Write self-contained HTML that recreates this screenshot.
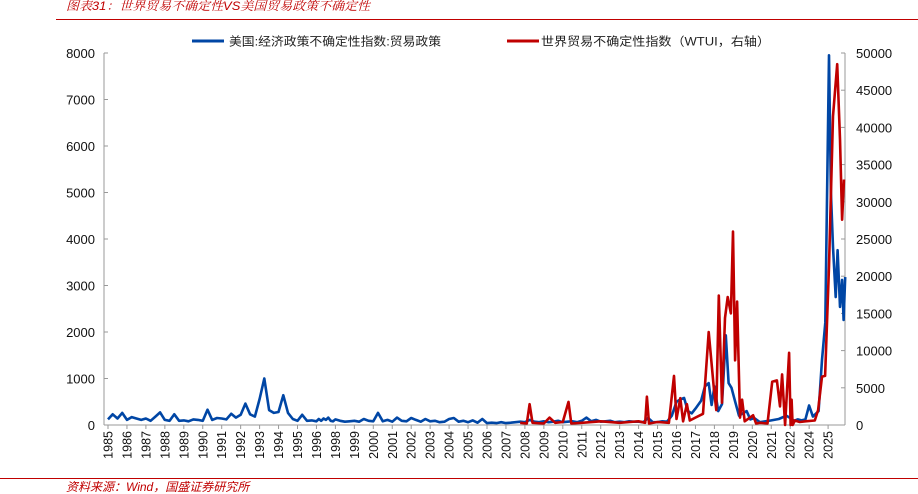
<!DOCTYPE html>
<html><head><meta charset="utf-8"><style>
html,body{margin:0;padding:0;background:#fff;}
svg{display:block;font-family:"Liberation Sans","Noto Sans CJK SC",sans-serif;}
</style></head><body>
<svg id="chart" width="918" height="494" viewBox="0 0 918 494" xmlns="http://www.w3.org/2000/svg">
<text x="66" y="10" font-size="12" fill="#c00000" font-style="italic" textLength="304" lengthAdjust="spacingAndGlyphs" font-family="'Liberation Sans','Noto Serif CJK SC',serif">图表31：世界贸易不确定性VS美国贸易政策不确定性</text>
<line x1="56" y1="19.5" x2="918" y2="19.5" stroke="#c00000" stroke-width="1"/>
<g>
<line x1="192" y1="41" x2="224" y2="41" stroke="#0046a5" stroke-width="3"/>
<text x="229" y="45.5" font-size="12" fill="#222" textLength="212" lengthAdjust="spacingAndGlyphs">美国:经济政策不确定性指数:贸易政策</text>
<line x1="507" y1="41" x2="539" y2="41" stroke="#c00000" stroke-width="3"/>
<text x="541" y="45.5" font-size="12" fill="#222" textLength="229" lengthAdjust="spacingAndGlyphs">世界贸易不确定性指数（WTUI，右轴）</text>
</g>
<g id="axes"></g>
<g id="series"></g>
<line x1="0" y1="478.5" x2="918" y2="478.5" stroke="#c00000" stroke-width="1"/>
<text x="66" y="491" font-size="12" fill="#c00000" font-style="italic">资料来源：Wind，国盛证券研究所</text>
</svg>
<script>
const labelYears=[1985,1986,1987,1988,1989,1990,1991,1992,1993,1994,1995,1996,1998,1999,2000,2001,2002,2003,2004,2005,2006,2007,2008,2009,2010,2011,2012,2013,2014,2015,2016,2017,2018,2019,2020,2021,2022,2024,2025];
const leftTicks=[0,1000,2000,3000,4000,5000,6000,7000,8000];
const rightTicks=[0,5000,10000,15000,20000,25000,30000,35000,40000,45000,50000];
const blueQuarterStart=1985;
const blueQuarterValues=[120,230,140,260,110,170,140,110,140,90,180,270,110,90,230,90,100,80,120,110,90,330,110,150,140,120,240,160,220,460,230,180,560,1000,320,260,280,640,260,130,90,220,90,100,80,130,90,140,110,160,90,80,120,90,70,80,90,70,130,90,80,260,80,110,70,160,90,80,150,110,70,130,80,90,60,70,130,150,70,90,60,100,50,130,40,50,40,60,40,50,60,70,60,110,70,60,80,60,70,90,60,70,80,60,90,160,80,110,70,80,90,60,70,60,80,70,70,60,150,60,60,80,70,200];
const blueLateDates=[2016.0,2016.2,2016.4,2016.6,2016.8,2017.0,2017.3,2017.5,2017.7,2017.85,2018.0,2018.2,2018.4,2018.6,2018.75,2018.9,2019.1,2019.3,2019.5,2019.7,2019.9,2020.1,2020.4,2020.7,2021.0,2021.4,2021.8,2022.0,2022.4,2022.8,2023.2,2023.6,2024.0,2024.2,2024.5,2024.68,2024.85,2025.05,2025.15,2025.26,2025.4,2025.5,2025.63,2025.74,2025.82,2025.9];
const blueLateValues=[500,550,580,300,250,350,520,830,900,430,830,300,450,1930,900,800,500,200,250,300,120,150,60,80,100,130,200,150,90,120,100,120,420,180,300,1400,2200,7950,5000,3830,2750,3760,2540,3120,2260,3180];
const redDates=[2007.75,2008.1,2008.25,2008.4,2009.0,2009.3,2009.6,2010.0,2010.3,2010.45,2011,2012,2013,2014.0,2014.35,2014.44,2014.55,2015.0,2015.6,2015.87,2016.0,2016.2,2016.35,2016.55,2016.7,2017.0,2017.4,2017.7,2017.97,2018.1,2018.23,2018.4,2018.56,2018.7,2018.87,2018.98,2019.09,2019.2,2019.35,2019.46,2019.6,2020.04,2020.2,2020.4,2020.8,2021.05,2021.3,2021.46,2021.57,2021.73,2021.94,2022.04,2022.15,2022.25,2022.5,2023,2023.6,2024.3,2024.47,2024.68,2024.84,2025.05,2025.26,2025.48,2025.63,2025.74,2025.84];
const redValues=[300,200,2800,300,200,1000,300,400,3100,200,300,500,300,500,300,3800,200,400,300,6600,800,3600,500,2800,600,1000,1500,12500,5000,2000,17400,3000,14400,17200,15000,26000,8700,16600,1000,3400,500,1300,200,300,200,5800,6000,2500,6800,0,9700,0,3400,0,600,400,500,600,2000,6500,6600,21300,41500,48500,38400,27600,33000];

const NS="http://www.w3.org/2000/svg";
const X0=108,STEP=18.95,PL=104,PR=845,PT=53,PB=425;
function xScale(yr){
  const n=labelYears.length;
  if(yr<=labelYears[0]) return X0+(yr-labelYears[0])*STEP;
  for(let i=0;i<n-1;i++){
    if(yr<=labelYears[i+1]){const f=(yr-labelYears[i])/(labelYears[i+1]-labelYears[i]);return X0+(i+f)*STEP;}
  }
  return X0+(n-1)*STEP+(yr-labelYears[n-1])*STEP;
}
function yLeft(v){return PB-(v/8000)*(PB-PT);}
function yRight(v){return PB-(v/50000)*(PB-PT);}
function mk(tag,attrs,parent){const e=document.createElementNS(NS,tag);for(const k in attrs)e.setAttribute(k,attrs[k]);parent.appendChild(e);return e;}
const axes=document.getElementById('axes'),series=document.getElementById('series');
let a=mk('line',{x1:PL,y1:PT,x2:PL,y2:PB,stroke:'#999','stroke-width':1},axes);


a=mk('line',{x1:PR,y1:PT,x2:PR,y2:PB,stroke:'#999','stroke-width':1},axes);


a=mk('line',{x1:PL,y1:PB,x2:PR,y2:PB,stroke:'#999','stroke-width':1},axes);


leftTicks.forEach(v=>{
  const y=yLeft(v);
  const t=mk('line',{x1:PL,y1:y,x2:PL+4,y2:y,stroke:'#999'},axes);
  
  
  const l=mk('text',{x:95,y:y+5,'font-size':13,'text-anchor':'end',fill:'#111'},axes);l.textContent=v;
  
  
});
rightTicks.forEach(v=>{
  const y=yRight(v);
  const t=mk('line',{x1:PR-4,y1:y,x2:PR,y2:y,stroke:'#999'},axes);
  
  
  const l=mk('text',{x:856,y:y+5,'font-size':13,fill:'#111'},axes);l.textContent=v;
  
  
});
labelYears.forEach(yr=>{
  const x=xScale(yr);
  const t=mk('line',{x1:x,y1:PB,x2:x,y2:PB+4,stroke:'#999'},axes);
  
  
  const l=mk('text',{x:0,y:0,'font-size':12.5,'text-anchor':'end',fill:'#111',transform:`translate(${x+4.5},431) rotate(-90)`},axes);l.textContent=yr;
  
  
});
const bd=[],bv=[];
blueQuarterValues.forEach((v,i)=>{bd.push(blueQuarterStart+i*0.25);bv.push(v);});
blueLateDates.forEach((d,i)=>{bd.push(d);bv.push(blueLateValues[i]);});
let p=mk('polyline',{points:bd.map((d,i)=>xScale(d).toFixed(1)+','+yLeft(bv[i]).toFixed(1)).join(' '),fill:'none',stroke:'#0046a5','stroke-width':2.6,'stroke-linejoin':'round'},series);


p=mk('polyline',{points:redDates.map((d,i)=>xScale(d).toFixed(1)+','+yRight(redValues[i]).toFixed(1)).join(' '),fill:'none',stroke:'#c00000','stroke-width':2.6,'stroke-linejoin':'round'},series);


</script>
</body></html>
